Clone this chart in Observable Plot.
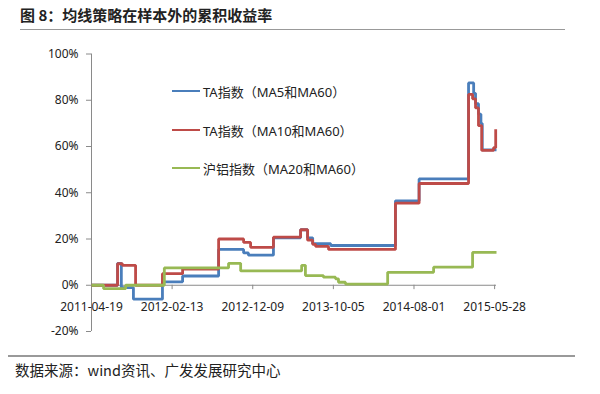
<!DOCTYPE html>
<html>
<head>
<meta charset="utf-8">
<script src="https://cdn.jsdelivr.net/npm/d3@7"></script>
<script src="https://cdn.jsdelivr.net/npm/@observablehq/plot@0.6"></script>
<style>
  html, body { margin: 0; padding: 0; background: #fff; }
  #wrap { position: relative; width: 600px; height: 394px; overflow: hidden; background: #fff; }
  #chart { position: absolute; left: 0; top: 0; }
  .title { position: absolute; left: 20px; top: 4px; font-family: "Noto Sans CJK SC", sans-serif; font-weight: bold; font-size: 15px; color: #222; line-height: 22px; white-space: nowrap; }
  .rule { position: absolute; background: #999; height: 1.5px; }
  .source { position: absolute; left: 15px; top: 360px; font-family: "Noto Sans CJK SC", sans-serif; font-size: 14.5px; color: #222; line-height: 20px; white-space: nowrap; }
  .legend { position: absolute; left: 172px; top: 80px; font-family: "Noto Sans", "Noto Sans CJK SC", sans-serif; font-size: 13px; color: #222; }
  .legend .row { position: absolute; left: 0; height: 20px; display: flex; align-items: center; white-space: nowrap; }
  .legend .sw { width: 28px; height: 2.5px; margin-right: 3px; }
</style>
</head>
<body>
<div id="wrap">
  <div class="title">图 8：均线策略在样本外的累积收益率</div>
  <div class="rule" style="left:20px; top:28.5px; width:545px;"></div>
  <div id="chart"></div>
  <div class="legend" id="legend"></div>
  <div class="rule" style="left:8px; top:355px; width:567px;"></div>
  <div class="source">数据来源：wind资讯、广发发展研究中心</div>
</div>
<script>
// ---- data ----
const seriesNames = ["TA指数（MA5和MA60）", "TA指数（MA10和MA60）", "沪铝指数（MA20和MA60）"];
const seriesColors = ["#4a7ebb", "#be4b48", "#98b954"];

const ma5Dates = ["2011-04-19","2011-07-25","2011-08-08","2011-09-22","2012-01-08","2012-03-23","2012-08-04","2012-11-05","2012-11-23","2013-02-24","2013-06-05","2013-07-01","2013-07-20","2013-09-25","2014-05-24","2014-08-20","2015-02-20","2015-03-11","2015-03-18","2015-03-29","2015-04-07","2015-04-12","2015-06-04"];
const ma5Values = [0, 9.5, -1, -6, 1.5, 4, 15.5, 14, 13, 20.5, 24, 20.5, 18, 17.2, 36.5, 46, 87.5, 83, 78.5, 74, 70, 58.5, 58.5];

const ma10Dates = ["2011-04-19","2011-07-25","2011-08-12","2011-09-30","2012-01-08","2012-03-23","2012-08-04","2012-11-05","2012-12-01","2013-02-24","2013-06-05","2013-07-01","2013-07-20","2013-07-31","2013-09-17","2014-05-24","2014-08-20","2015-02-20","2015-03-07","2015-03-18","2015-03-29","2015-04-10","2015-05-24","2015-06-01"];
const ma10Values = [0, 9.3, 8.6, 0, 5, 7, 20, 18.5, 16.4, 20.8, 24, 19.5, 17.7, 16.8, 15.5, 35.5, 44, 82.5, 80.6, 76.7, 69, 58.3, 59.5, 67.5];

const alDates = ["2011-04-19","2011-06-03","2011-08-24","2012-01-15","2012-09-10","2012-10-25","2013-06-09","2013-06-23","2013-08-29","2013-10-13","2013-10-24","2013-11-19","2014-04-25","2014-10-13","2015-03-07","2015-06-04"];
const alValues = [0, -1.5, 0, 7.5, 9.5, 6.2, 8.6, 4.2, 3.5, 2.8, 1.3, 0.5, 5.6, 7.8, 14.2, 14.2];

const xTickLabels = ["2011-04-19","2012-02-13","2012-12-09","2013-10-05","2014-08-01","2015-05-28"];
const yTickValues = [-20, 0, 20, 40, 60, 80, 100];
const xDomain = ["2011-04-19", "2015-06-04"];
const yDomain = [-20, 100];

// ---- build ----
const parse = d3.utcParse("%Y-%m-%d");
const fmt = d3.utcFormat("%Y-%m-%d");
function build(dates, values, name) {
  return dates.map((d, i) => ({date: parse(d), value: values[i], series: name}));
}
const rows = [
  build(ma5Dates, ma5Values, seriesNames[0]),
  build(ma10Dates, ma10Values, seriesNames[1]),
  build(alDates, alValues, seriesNames[2])
];
const xTicks = xTickLabels.map(parse);
const axisColor = "#8a8a8a";

const chart = Plot.plot({
  width: 600,
  height: 394,
  marginLeft: 91,
  marginRight: 104,
  marginTop: 53.5,
  marginBottom: 63,
  x: {type: "utc", domain: xDomain.map(parse), axis: null},
  y: {domain: yDomain, axis: null},
  style: {fontFamily: "'Noto Sans', sans-serif", fontSize: "12px", color: "#222", background: "transparent"},
  marks: [
    Plot.axisY({ticks: yTickValues, tickFormat: d => d + "%", tickSize: 5, tickPadding: 8, stroke: axisColor, fill: "#222", fontSize: 12, label: null}),
    Plot.ruleX([parse(xDomain[0])], {y1: yDomain[0], y2: yDomain[1], stroke: axisColor, strokeWidth: 1}),
    Plot.ruleY([0], {stroke: axisColor, strokeWidth: 1}),
    Plot.ruleX(xTicks, {x: d => d, y1: 0, y2: -1.9, stroke: axisColor}),
    Plot.text(xTicks, {x: d => d, y: 0, dy: 22, text: d => fmt(d), fill: "#222", fontSize: 12}),
    ...rows.map((r, i) => Plot.line(r, {x: "date", y: "value", curve: "step-after", stroke: seriesColors[i], strokeWidth: 2.8, strokeLinejoin: "miter", strokeLinecap: "butt"}))
  ]
});
document.getElementById("chart").appendChild(chart);

// legend
const legend = document.getElementById("legend");
const rowTops = [1, 40, 78];
seriesNames.forEach((name, i) => {
  const row = document.createElement("div");
  row.className = "row";
  row.style.top = rowTops[i] + "px";
  const sw = document.createElement("span");
  sw.className = "sw";
  sw.style.background = seriesColors[i];
  const t = document.createElement("span");
  t.textContent = name;
  row.appendChild(sw);
  row.appendChild(t);
  legend.appendChild(row);
});
</script>
</body>
</html>
